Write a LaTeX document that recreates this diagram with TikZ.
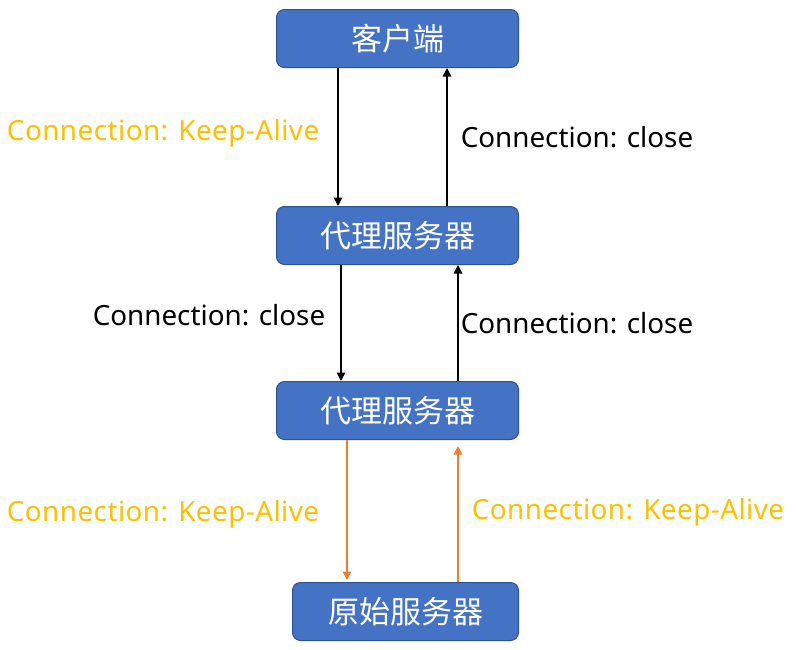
\documentclass[tikz,border=0pt]{standalone}
\usepackage{fontspec}
\setmainfont{Noto Sans}
\newfontfamily\cjk{Noto Sans CJK SC}
\usetikzlibrary{arrows.meta, positioning}

\definecolor{boxblue}{HTML}{4472C4}
\definecolor{boxedge}{HTML}{2F528F}
\definecolor{linkorange}{HTML}{ED7D31}
\definecolor{textgold}{HTML}{FFC000}

\begin{document}
\begin{tikzpicture}[>={Triangle[width=8.5pt,length=8.5pt]}]
    % Styles
    \tikzstyle{server} = [rectangle, draw=boxedge, line width=1pt, fill=boxblue, text=white, minimum width=242pt, minimum height=58pt, rounded corners=8pt, font=\cjk\fontsize{31}{36}\selectfont]
    \tikzstyle{line} = [draw, line width=1.6pt, ->]
    \tikzstyle{keep} = [draw=linkorange, line width=1.8pt, ->, linkorange]
    \tikzstyle{tag} = [inner sep=0pt, font=\fontsize{27.8}{33}\selectfont]
    \tikzstyle{alive} = [tag, text=textgold, font=\fontsize{27.8}{33}\selectfont\addfontfeature{LetterSpace=1.7}]

    \useasboundingbox (0,0) rectangle (796pt,-649pt);

    % Nodes
    \node [server] (client) at (397.5pt,-38.5pt) {客户端};
    \node [server, below=138pt of client] (proxyA) {代理服务器};
    \node [server, below=116pt of proxyA] (proxyB) {代理服务器};
    \node [server, below=142pt of proxyB, xshift=8pt, minimum width=226pt] (origin) {原始服务器};

    % Paths
    \path [line] ([xshift=-59.5pt]client.south) -- node[alive, left=18pt, yshift=4pt] {Connection: Keep-Alive} ([xshift=-59.5pt]proxyA.north);
    \path [line] ([xshift=49.5pt]proxyA.north) -- node[tag, right=13pt, yshift=0pt] {Connection: close} ([xshift=49.5pt]client.south);

    \path [line] ([xshift=-56.5pt]proxyA.south) -- node[tag, left=15pt, yshift=7.5pt] {Connection: close} ([xshift=-56.5pt]proxyB.north);
    \path [line] ([xshift=60.5pt]proxyB.north) -- node[tag, right=2pt, yshift=-0.5pt] {Connection: close} ([xshift=60.5pt]proxyA.south);

    % Keep-Alive to origin
    \path [keep] ([xshift=-50.5pt]proxyB.south) -- node[alive, left=27pt, yshift=-4pt] {Connection: Keep-Alive} ([xshift=-58.5pt, yshift=2pt]origin.north);
    \path [keep, shorten >=6pt] ([xshift=52.5pt]origin.north) -- node[alive, right=13pt, yshift=-1pt] {Connection: Keep-Alive} ([xshift=60.5pt]proxyB.south);

\end{tikzpicture}
\end{document}
